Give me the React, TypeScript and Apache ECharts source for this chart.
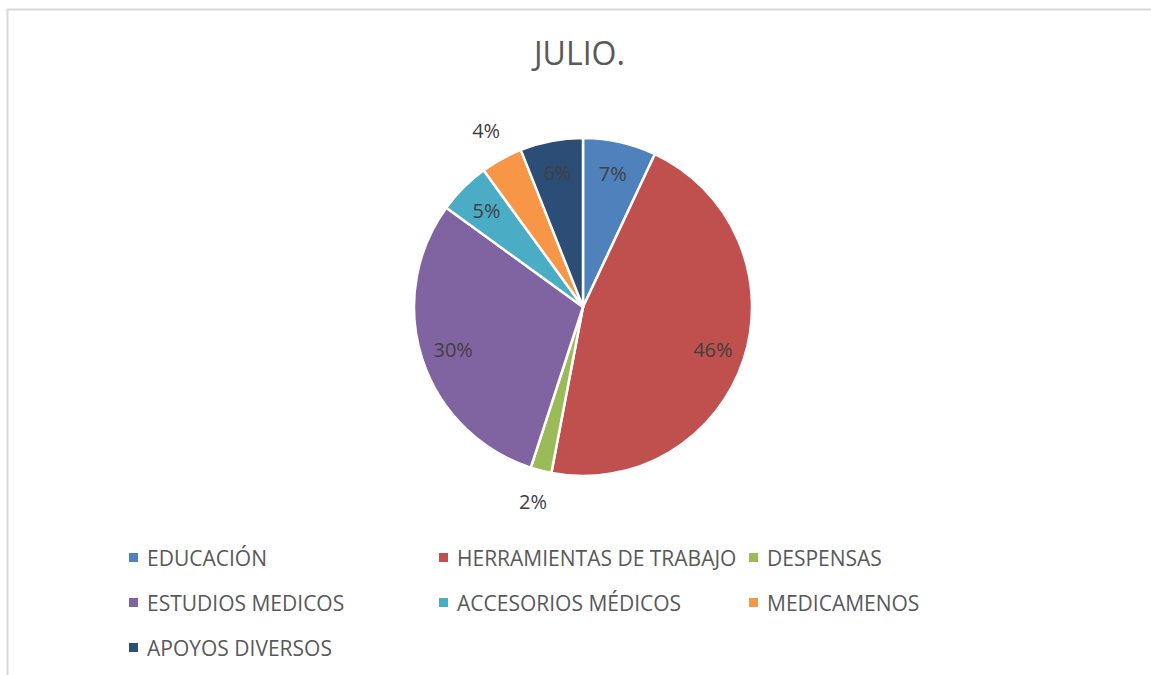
import React, { useEffect, useRef } from "react";
import * as echarts from "echarts";

const TITLE = "JULIO.";
const categories = [
  "EDUCACIÓN",
  "HERRAMIENTAS DE TRABAJO",
  "DESPENSAS",
  "ESTUDIOS MEDICOS",
  "ACCESORIOS MÉDICOS",
  "MEDICAMENOS",
  "APOYOS DIVERSOS",
];
const values = [7, 46, 2, 30, 5, 4, 6];
const colors = ["#4F81BD", "#C0504D", "#9BBB59", "#8064A2", "#4BACC6", "#F79646", "#2C4D75"];
// Excel "best fit": which labels sit outside the pie
const labelOutside = [false, false, true, false, false, true, false];

// legend layout (column x of marker left, row y of centre)
const legendCols = [129, 439, 749];
const legendRows = [557.5, 602.5, 647.5];

const FONT = "'Open Sans', 'Noto Sans', sans-serif";

export default function App() {
  const ref = useRef<HTMLDivElement>(null);
  useEffect(() => {
    if (!ref.current) return;
    const chart = echarts.init(ref.current, undefined, { renderer: "svg" });
    const cx = 583;
    const cy = 307;
    const r = 169;

    const legends = categories.map((name, i) => ({
      show: true,
      orient: "horizontal",
      left: legendCols[i % 3],
      top: legendRows[Math.floor(i / 3)] - 11,
      padding: 0,
      itemWidth: 9,
      itemHeight: 9,
      icon: "rect",
      selectedMode: false,
      data: [{ name, itemStyle: { color: colors[i], borderWidth: 0 } }],
      textStyle: {
        fontFamily: FONT,
        fontSize: 21,
        color: "#595959",
        lineHeight: 22,
        padding: [0, 0, 0, 4],
      },
    }));

    const baseData = categories.map((name, i) => ({
      name,
      value: values[i],
      itemStyle: { color: colors[i] },
    }));

    const labelStyle = {
      fontFamily: FONT,
      fontSize: 20,
      color: "#404040",
    };

    const option: any = {
      animation: false,
      backgroundColor: "#ffffff",
      title: {
        text: TITLE,
        left: 534,
        top: 36,
        padding: 0,
        textStyle: {
          fontFamily: FONT,
          fontSize: 32,
          fontWeight: "normal",
          color: "#595959",
        },
      },
      legend: legends,
      graphic: [
        {
          type: "rect",
          shape: { x: 7.5, y: 9.5, width: 1200, height: 700 },
          style: { fill: "none", stroke: "#d9d9d9", lineWidth: 2 },
          silent: true,
        },
      ],
      series: [
        {
          type: "pie",
          center: [cx, cy],
          radius: [0, r],
          startAngle: 90,
          clockwise: true,
          percentPrecision: 0,
          label: { show: false },
          labelLine: { show: false },
          emphasis: { disabled: true },
          itemStyle: { borderColor: "#ffffff", borderWidth: 2.5 },
          data: baseData,
        },
        {
          type: "pie",
          center: [cx, cy],
          radius: [r * 0.58, r],
          startAngle: 90,
          clockwise: true,
          silent: true,
          percentPrecision: 0,
          emphasis: { disabled: true },
          itemStyle: { color: "transparent", borderWidth: 0 },
          labelLine: { show: false },
          label: { show: true, position: "inside", formatter: "{d}%", ...labelStyle },
          data: categories.map((name, i) => ({
            name,
            value: values[i],
            itemStyle: { color: "transparent" },
            label: { show: !labelOutside[i] },
          })),
        },
        {
          type: "pie",
          center: [cx, cy],
          radius: [r + 18, r + 40],
          startAngle: 90,
          clockwise: true,
          silent: true,
          percentPrecision: 0,
          emphasis: { disabled: true },
          itemStyle: { color: "transparent", borderWidth: 0 },
          labelLine: { show: false },
          label: { show: true, position: "inside", formatter: "{d}%", ...labelStyle },
          data: categories.map((name, i) => ({
            name,
            value: values[i],
            itemStyle: { color: "transparent" },
            label: { show: labelOutside[i] },
          })),
        },
      ],
    };
    chart.setOption(option);
    return () => chart.dispose();
  }, []);
  return (
    <div
      ref={ref}
      style={{ position: "fixed", left: 0, top: 0, width: 1151, height: 675 }}
    />
  );
}
